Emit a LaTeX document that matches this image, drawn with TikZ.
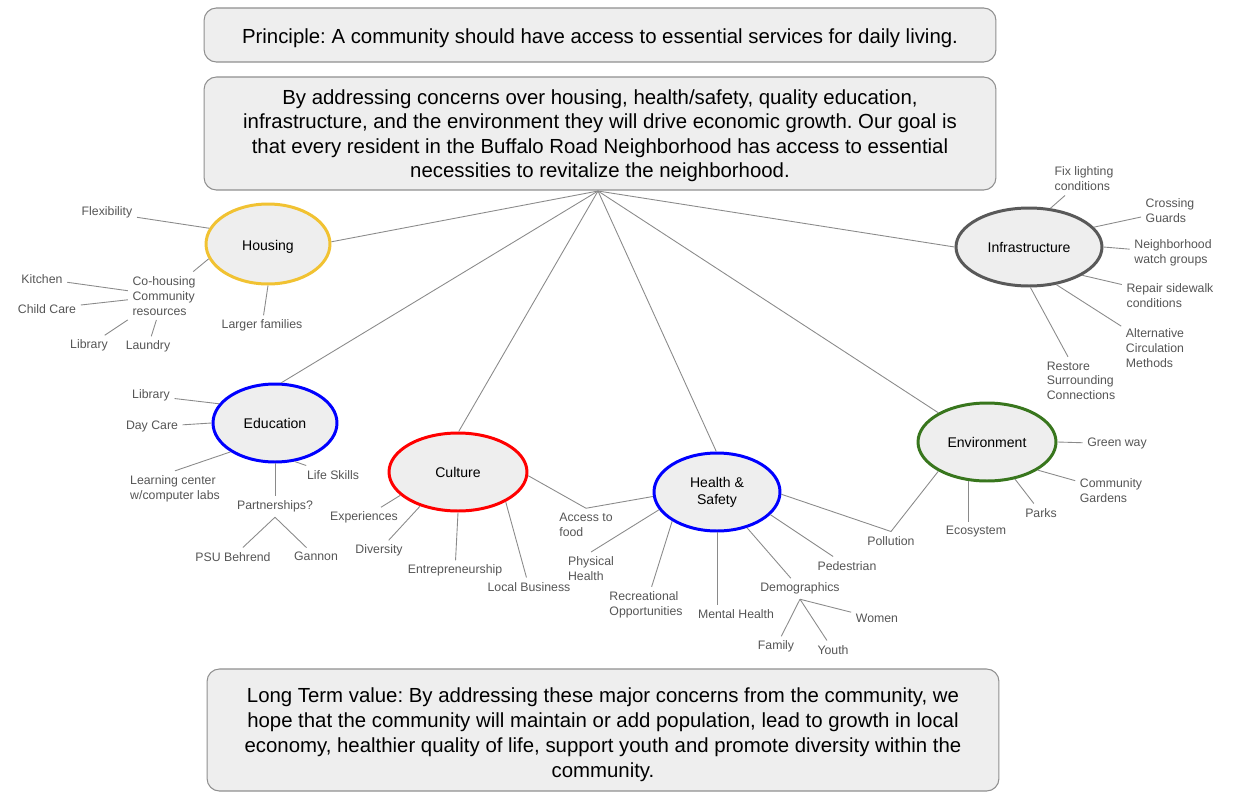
\documentclass[tikz,border=0pt]{standalone}
\usepackage{fontspec}
\setmainfont{Liberation Sans}
\usetikzlibrary{shapes.geometric}
\frenchspacing
\definecolor{boxfill}{HTML}{EEEEEE}
\definecolor{boxedge}{HTML}{8F8F8F}
\definecolor{labelgray}{HTML}{555555}
\definecolor{linkgray}{HTML}{8A8A8A}
\definecolor{housingcol}{HTML}{F1C232}
\definecolor{infracol}{HTML}{595959}
\definecolor{envcol}{HTML}{38761D}
\definecolor{culturecol}{HTML}{FF0000}
\definecolor{educol}{HTML}{0000FF}
\tikzset{
  infobox/.style={draw=boxedge, fill=boxfill, rounded corners=7pt, line width=0.6pt,
    minimum width=15.84cm, align=center, inner sep=0pt},
  topic/.style={ellipse, fill=boxfill, line width=1.7pt, inner sep=0pt, align=center,
    minimum height=1.56cm, font=\fontsize{8}{9.6}\selectfont},
  leaf/.style={text=labelgray, align=left, inner sep=2.5pt, yshift=-1pt,
    font=\fontsize{7}{8.5}\selectfont},
  link/.style={draw=linkgray, line width=0.5pt},
}
\begin{document}
\begin{tikzpicture}[x=0.02cm,y=-0.02cm]
\useasboundingbox (0,0) rectangle (1244,805);
\node[infobox, minimum height=1.08cm, font=\fontsize{11.6}{13.6}\selectfont] (principle) at (600,35)
  {\rule{0pt}{12pt}Principle: A community should have access to essential services for daily living.};
\node[infobox, minimum height=2.26cm, font=\fontsize{11.6}{13.8}\selectfont] (goal) at (600,133.5)
  {\rule{0pt}{11pt}By addressing concerns over housing, health/safety, quality education,\\
   infrastructure, and the environment they will drive economic growth. Our goal is\\
   that every resident in the Buffalo Road Neighborhood has access to essential\\
   necessities to revitalize the neighborhood.};
\node[infobox, minimum height=2.44cm, font=\fontsize{11.6}{14.3}\selectfont] (longterm) at (603,730)
  {\rule{0pt}{13.5pt}Long Term value: By addressing these major concerns from the community, we\\
   hope that the community will maintain or add population, lead to growth in local\\
   economy, healthier quality of life, support youth and promote diversity within the\\
   community.};
\coordinate (hub) at (598,191);

\node[topic, draw=housingcol, minimum width=2.48cm, minimum height=1.6cm] (housing) at (268,244) {\rule{0pt}{8.5pt}Housing};
\node[topic, draw=infracol, minimum width=2.92cm] (infra) at (1029,247) {Infrastructure};
\node[topic, draw=educol, minimum width=2.48cm] (edu) at (275,423) {Education};
\node[topic, draw=culturecol, minimum width=2.76cm] (culture) at (458,472) {Culture};
\node[topic, draw=educol, minimum width=2.52cm] (health) at (717,492) {Health \&\\Safety};
\node[topic, draw=envcol, minimum width=2.76cm] (env) at (987,442) {Environment};

\draw[link] (hub) -- (housing.2);
\draw[link] (hub) -- (infra.180);
\draw[link] (hub) -- (edu.81);
\draw[link] (hub) -- (culture.89);
\draw[link] (hub) -- (health.91);
\draw[link] (hub) -- (env.149);

\node[leaf] (flex) at (107,211) {Flexibility};
\node[leaf] (cohousing) at (164,294) {Co-housing\\Community\\resources};
\node[leaf] (kitchen) at (42,277) {Kitchen};
\node[leaf] (childcare) at (47,307) {Child Care};
\node[leaf] (hlibrary) at (89,344) {Library};
\node[leaf] (laundry) at (148,345) {Laundry};
\node[leaf] (larger) at (262,324) {Larger families};
\draw[link] (housing.165) -- (flex);
\draw[link] (housing.194) -- (cohousing);
\draw[link] (housing.270) -- (larger);
\draw[link] (kitchen) -- (cohousing);
\draw[link] (childcare) -- (cohousing);
\draw[link] (hlibrary) -- (cohousing);
\draw[link] (laundry) -- (cohousing);

\node[leaf] (fixlight) at (1084,177) {Fix lighting\\conditions};
\node[leaf] (crossing) at (1170,209) {Crossing\\Guards};
\node[leaf] (watch) at (1173,251) {Neighborhood\\watch groups};
\node[leaf] (repair) at (1170,294) {Repair sidewalk\\conditions};
\node[leaf] (altcirc) at (1155,346) {Alternative\\Circulation\\Methods};
\node[leaf] (restore) at (1081,379) {Restore\\Surrounding\\Connections};
\draw[link] (infra.61) -- (fixlight);
\draw[link] (infra.17) -- (crossing);
\draw[link] (infra.0) -- (watch);
\draw[link] (infra.332) -- (repair);
\draw[link] (infra.306) -- (altcirc);
\draw[link] (infra.272) -- (restore);

\node[leaf] (elibrary) at (151,394) {Library};
\node[leaf] (daycare) at (152,425) {Day Care};
\node[leaf] (learning) at (175,487) {Learning center\\w/computer labs};
\node[leaf] (lifeskills) at (333,473) {Life Skills};
\node[leaf] (partner) at (275,505) {Partnerships?};
\node[leaf] (psu) at (233,555) {PSU Behrend};
\node[leaf] (gannon) at (316,555) {Gannon};
\draw[link] (edu.161) -- (elibrary);
\draw[link] (edu.180) -- (daycare);
\draw[link] (edu.213) -- (learning.north);
\draw[link] (edu.297) -- (lifeskills);
\draw[link] (edu.270) -- (partner);
\draw[link] (partner.south) -- (psu);
\draw[link] (partner.south) -- (gannon);

\node[leaf] (experiences) at (364,516) {Experiences};
\node[leaf] (diversity) at (379,549) {Diversity};
\node[leaf] (entrep) at (455,569) {Entrepreneurship};
\node[leaf] (localbiz) at (529,585) {Local Business};
\node[leaf] (access) at (586,523) {Access to\\food};
\draw[link] (culture.202) -- (experiences);
\draw[link] (culture.222) -- (diversity);
\draw[link] (culture.270) -- (entrep);
\draw[link] (culture.328) -- (localbiz);
\draw[link] (culture.357) -- (access.north) -- (health.184);

\node[leaf] (physical) at (591,567) {Physical\\Health};
\node[leaf] (recreation) at (646,603) {Recreational\\Opportunities};
\node[leaf] (mental) at (736,612) {Mental Health};
\node[leaf] (demo) at (800,587) {Demographics};
\node[leaf] (pedestrian) at (847,564) {Pedestrian};
\node[leaf] (family) at (776,645) {Family};
\node[leaf] (youth) at (833,648) {Youth};
\node[leaf] (women) at (877,617) {Women};
\node[leaf] (pollution) at (891,539) {Pollution};
\draw[link] (health.197) -- (physical.north);
\draw[link] (health.213) -- (recreation);
\draw[link] (health.270) -- (health.270 |- mental.north);
\draw[link] (health.310) -- (demo);
\draw[link] (health.337) -- (pedestrian);
\draw[link] (demo.south) -- (family);
\draw[link] (demo.south) -- (youth);
\draw[link] (demo.south) -- (women);
\draw[link] (health.358) -- (pollution.north) -- (env.211);

\node[leaf] (greenway) at (1117,442) {Green way};
\node[leaf] (gardens) at (1111,489) {Community\\Gardens};
\node[leaf] (parks) at (1041,511) {Parks};
\node[leaf] (ecosystem) at (976,530) {Ecosystem};
\draw[link] (env.0) -- (greenway);
\draw[link] (env.331) -- (gardens);
\draw[link] (env.307) -- (parks);
\draw[link] (env.245) -- (env.245 |- ecosystem.north);
\end{tikzpicture}
\end{document}
